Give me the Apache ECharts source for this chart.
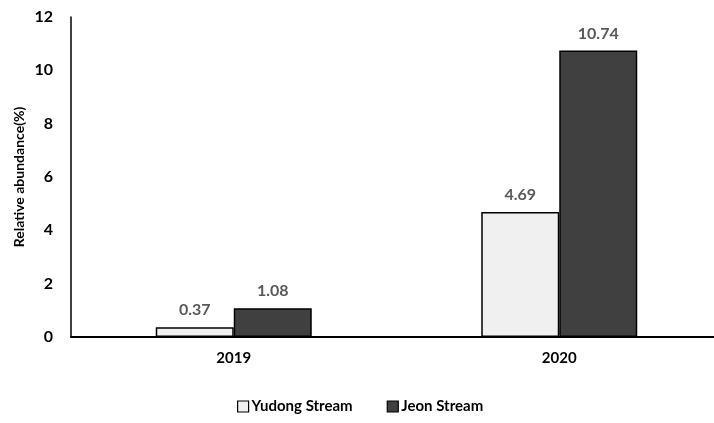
<!DOCTYPE html>
<html>
<head>
<meta charset="utf-8">
<script src="https://cdn.jsdelivr.net/npm/echarts@6/dist/echarts.min.js"></script>
<style>
  html, body { margin: 0; padding: 0; background: #fff; overflow: hidden; }
  /* the canvas runs a few pixels past the right edge of the window, so the
     category axis is cut off there */
  #chart { width: 722px; height: 423px; }
</style>
</head>
<body>
<div id="chart"></div>
<script>
// Sampling years and relative abundance (%) per stream
const years = ['2019', '2020'];
const yudongStream = [0.37, 4.69];
const jeonStream = [1.08, 10.74];
const yTicks = [0, 2, 4, 6, 8, 10, 12];
const yTitle = 'Relative abundance(%)';

const FONT = 'Lato, "Open Sans", "Liberation Sans", sans-serif';

const chart = echarts.init(document.getElementById('chart'), null, { renderer: 'canvas' });

const labelStyle = {
  show: true,
  position: 'top',
  distance: 9,
  color: '#595959',
  fontFamily: FONT,
  fontWeight: 'bold',
  fontSize: 16
};

chart.setOption({
  animation: false,
  backgroundColor: '#ffffff',
  grid: { left: 71, right: 0, top: 17, bottom: 86, containLabel: false },
  // vertical axis title, centred on the plot height
  graphic: [{
    type: 'text',
    x: 19,
    y: 177,
    rotation: Math.PI / 2,
    style: {
      text: yTitle,
      fill: '#000',
      font: 'bold 14px ' + FONT,
      textAlign: 'center',
      textVerticalAlign: 'middle'
    }
  }],
  legend: {
    bottom: 4,
    left: 232,
    itemWidth: 11,
    itemHeight: 11,
    itemGap: 34,
    textStyle: { color: '#000', fontFamily: FONT, fontWeight: 'bold', fontSize: 15, padding: [0, 0, 0, -2] },
    data: [
      { name: 'Yudong Stream', icon: 'rect', itemStyle: { color: '#f0f0f0', borderColor: '#000', borderWidth: 1.2 } },
      { name: 'Jeon Stream', icon: 'rect', itemStyle: { color: '#404040', borderColor: '#000', borderWidth: 1.2 } }
    ]
  },
  xAxis: {
    type: 'category',
    data: years,
    axisLine: { lineStyle: { color: '#000', width: 2 } },
    axisTick: { show: false },
    axisLabel: { color: '#000', fontFamily: FONT, fontWeight: 'bold', fontSize: 15, margin: 14 }
  },
  yAxis: {
    type: 'value',
    min: yTicks[0],
    max: yTicks[yTicks.length - 1],
    interval: 2,
    axisLine: { show: true, lineStyle: { color: '#000', width: 1.5 } },
    axisTick: { show: false },
    splitLine: { show: false },
    axisLabel: { color: '#000', fontFamily: FONT, fontWeight: 'bold', fontSize: 16, margin: 18 }
  },
  series: [
    {
      name: 'Yudong Stream',
      type: 'bar',
      data: yudongStream,
      barWidth: 78,
      barGap: '0%',
      itemStyle: { color: '#f0f0f0', borderColor: '#000', borderWidth: 1.5 },
      label: labelStyle
    },
    {
      name: 'Jeon Stream',
      type: 'bar',
      data: jeonStream,
      barWidth: 78,
      barGap: '0%',
      itemStyle: { color: '#404040', borderColor: '#000', borderWidth: 1.5 },
      label: labelStyle
    }
  ]
});
</script>
</body>
</html>
